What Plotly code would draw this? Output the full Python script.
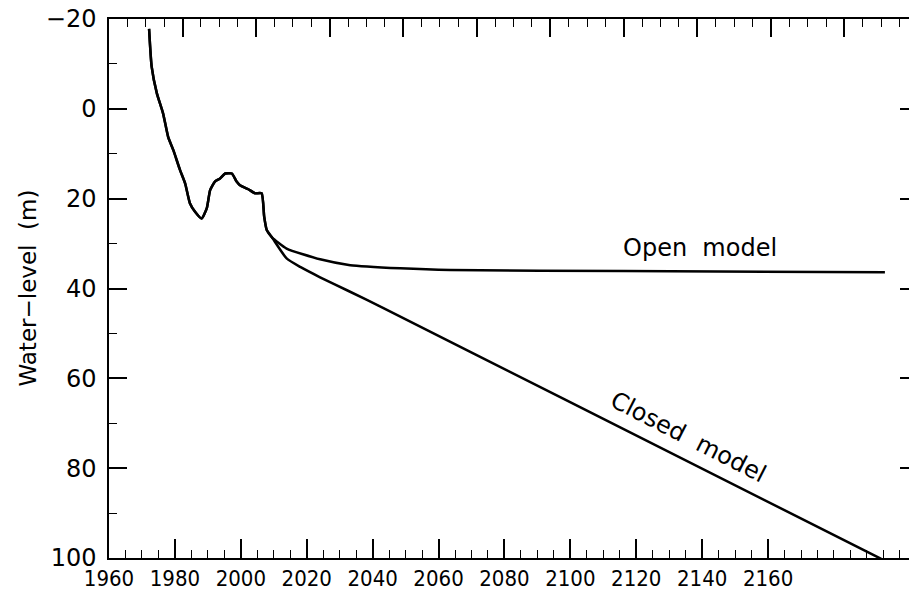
import plotly.graph_objects as go

# shared history (both models follow the same path until ~2004)
hist_years = [1970.9, 1971.6, 1973.0, 1974.7, 1976.1, 1977.5, 1979.3, 1980.7,
              1982.0, 1983.4, 1985.2, 1986.6, 1987.5, 1988.8, 1990.2, 1991.6,
              1993.4, 1994.7, 1995.6, 1997.9, 1999.7, 2001.5, 2002.2, 2002.9,
              2004.3]
hist_level = [-17.8, -9.4, -3.5, 1.0, 6.3, 9.2, 13.6, 16.6,
              21.0, 22.9, 24.4, 22.1, 18.1, 16.2, 15.5, 14.4,
              14.4, 16.2, 17.0, 17.9, 18.8, 18.8, 24.0, 27.0,
              28.6]

# open model continuation
open_years = [2008.3, 2017.4, 2025.6, 2039.2, 2052.8, 2100.0, 2171.0]
open_level = [31.1, 33.5, 34.8, 35.5, 35.9, 36.1, 36.4]

# closed model continuation
closed_years = [2008.3, 2012.0, 2017.4, 2025.0, 2034.5, 2082.7, 2170.0]
closed_level = [33.3, 35.2, 37.5, 40.5, 44.3, 64.2, 100.2]

x_ticks_bottom = [1960, 1980, 2000, 2020, 2040, 2060, 2080, 2100, 2120, 2140, 2160]
y_ticks = [-20, 0, 20, 40, 60, 80, 100]

font_family = "DejaVu Sans"

fig = go.Figure()

# empty helper trace so the bottom (labelled) axis gets drawn
fig.add_trace(go.Scatter(
    x=x_ticks_bottom,
    y=[None] * len(x_ticks_bottom),
    mode='lines',
    hoverinfo='skip',
    xaxis='x',
    name=''
))
fig.add_trace(go.Scatter(
    x=hist_years + open_years,
    y=hist_level + open_level,
    mode='lines',
    line=dict(color='black', width=2.5, shape='spline', smoothing=0.5),
    xaxis='x2',
    name='Open model'
))
fig.add_trace(go.Scatter(
    x=hist_years + closed_years,
    y=hist_level + closed_level,
    mode='lines',
    line=dict(color='black', width=2.5, shape='spline', smoothing=0.5),
    xaxis='x2',
    name='Closed model'
))

# the plot frame runs slightly past the right edge of the window, as in the original
fig.update_layout(
    template='none',
    width=918,
    height=594,
    margin=dict(l=109, r=0, t=19, b=36, pad=0),
    plot_bgcolor='white',
    paper_bgcolor='white',
    showlegend=False,
    font=dict(family=font_family, size=22, color='black'),
    xaxis=dict(
        range=[1960, 2205.5],
        tickvals=x_ticks_bottom,
        tickangle=0,
        ticks='inside',
        ticklen=19,
        tickwidth=1.5,
        tickcolor='black',
        minor=dict(ticks='inside', ticklen=8, dtick=5, tickwidth=1.2, tickcolor='black'),
        showline=True,
        linecolor='black',
        linewidth=1.5,
        showgrid=False,
        zeroline=False,
        automargin=False,
        tickfont=dict(family='DejaVu Sans Condensed, DejaVu Sans', size=22),
    ),
    xaxis2=dict(
        range=[1960, 2180],
        overlaying='x',
        side='top',
        anchor='y',
        dtick=20,
        tick0=1960,
        ticks='inside',
        ticklen=18,
        tickwidth=1.5,
        tickcolor='black',
        minor=dict(ticks='inside', ticklen=8, dtick=5, tickwidth=1.2, tickcolor='black'),
        showticklabels=False,
        showline=True,
        linecolor='black',
        linewidth=1.5,
        showgrid=False,
        zeroline=False,
        automargin=False,
    ),
    yaxis=dict(
        range=[100, -20],
        tickvals=y_ticks,
        ticks='inside',
        ticklen=18,
        tickwidth=1.5,
        tickcolor='black',
        minor=dict(ticks='inside', ticklen=8, dtick=10, tickwidth=1.2, tickcolor='black'),
        showline=True,
        mirror='ticks',
        linecolor='black',
        linewidth=1.5,
        showgrid=False,
        zeroline=False,
        automargin=False,
        ticklabelstandoff=6,
        tickfont=dict(size=24),
    ),
    annotations=[
        dict(text='Water\u2212level  (m)', xref='paper', yref='paper',
             x=(27 - 109) / 809, y=0.5, textangle=-90, showarrow=False,
             xanchor='center', yanchor='middle', font=dict(size=23)),
        dict(text='Open  model', xref='x2', yref='y', x=2120.8, y=31,
             showarrow=False, xanchor='center', yanchor='middle',
             font=dict(size=24)),
        dict(text='Closed  model', xref='x2', yref='y', x=2117.5, y=73.1,
             textangle=27, showarrow=False, xanchor='center', yanchor='middle',
             font=dict(size=24)),
    ],
)

fig.write_html(
    "out.html",
    config={'displayModeBar': False},
    post_script="document.body.style.margin='0';document.body.style.overflow='hidden';",
)
